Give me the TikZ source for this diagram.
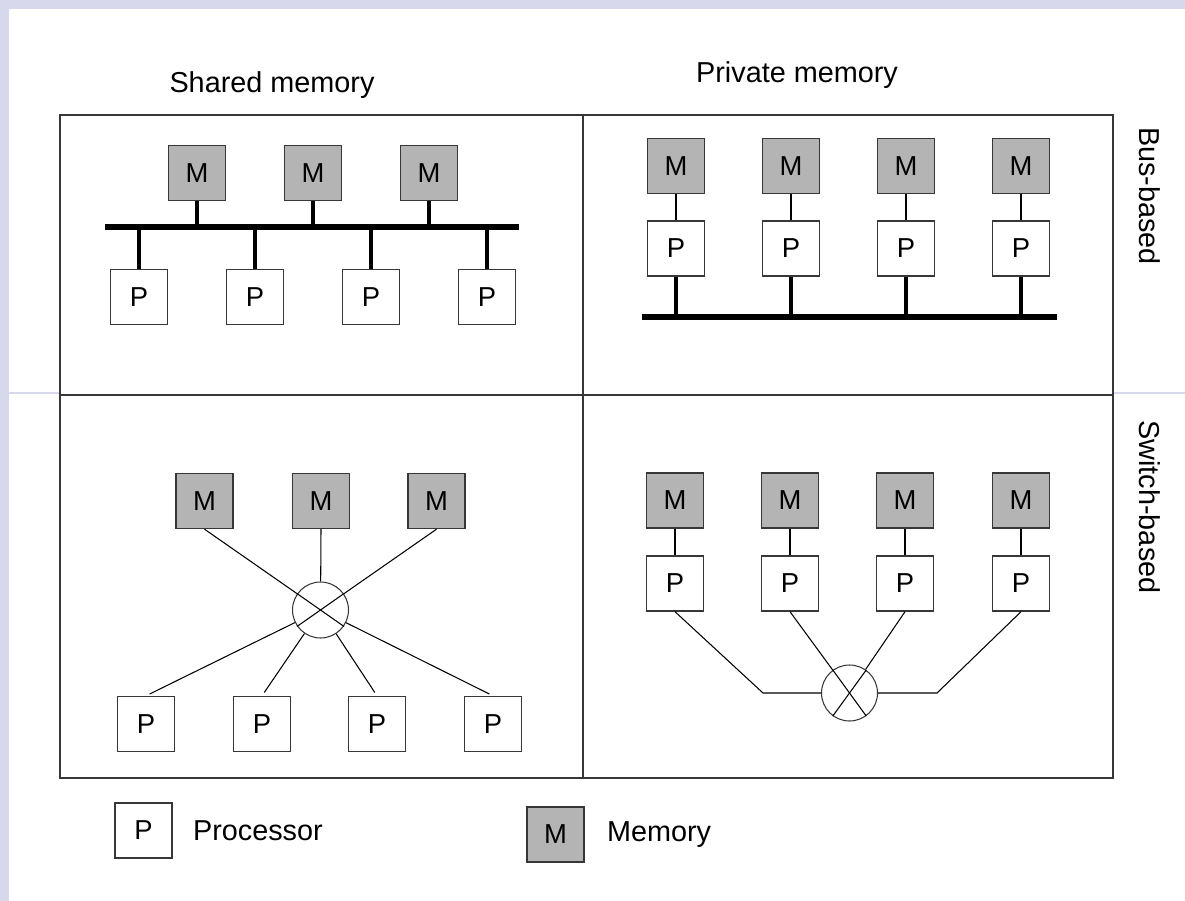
\documentclass[tikz,border=0pt]{standalone}
\usepackage{fontspec}
\setmainfont{Liberation Sans}
\usetikzlibrary{positioning}

\definecolor{memgray}{RGB}{180,180,180}
\definecolor{slideblue}{RGB}{216,216,236}
\definecolor{framegray}{RGB}{55,55,55}

\tikzset{
	proc/.style={draw=framegray,line width=0.8pt,fill=white,minimum width=1.14cm,minimum height=1.1cm,inner sep=0pt,font=\fontsize{15.6}{18}\selectfont},
	mem/.style={proc,fill=memgray},
	switch/.style={circle,draw=framegray,line width=0.6pt,minimum size=1.12cm,inner sep=0pt},
	bus/.style={line width=3.4pt},
	stem/.style={line width=2.8pt},
	link/.style={line width=0.6pt},
	title/.style={inner sep=0pt,anchor=base,font=\fontsize{16.4}{19}\selectfont},
	legend/.style={inner sep=0pt,font=\fontsize{16.4}{19}\selectfont}
}

\begin{document}
\begin{tikzpicture}[x=0.02cm,y=-0.02cm]
	\useasboundingbox	(0,0)	rectangle	(1185,901);
	\fill[white]		(0,0)	rectangle	(1185,901);
	\fill[slideblue]	(0,0)	rectangle	(9,901);
	\fill[slideblue]	(0,0)	rectangle	(1185,9);
	\draw[slideblue,line width=0.6pt]	(9,393)	--	(60,393);
	\draw[slideblue,line width=0.6pt]	(1113,393)	--	(1185,393);

	% frame
	\draw[framegray,line width=0.8pt]	(60,115)	rectangle	(1113,778);
	\draw[framegray,line width=0.8pt]	(583,115)	--	(583,778);
	\draw[framegray,line width=0.8pt]	(60,395)	--	(1113,395);

	\node[title]	(t1)	at	(272,93)	{Shared memory};
	\node[title]	(t2)	at	(797,83)	{Private memory};
	\node[title,rotate=-90,anchor=center]	(t3)	at	(1150,196)	{Bus-based};
	\node[title,rotate=-90,anchor=center]	(t4)	at	(1150,507)	{Switch-based};

	% shared memory, bus
	\node[mem]	(m11)	at	(197,173)	{M};
	\node[mem]	(m12)	at	(313,173)	{M};
	\node[mem]	(m13)	at	(429,173)	{M};
	\node[proc]	(p11)	at	(139,297)	{P};
	\node[proc]	(p12)	at	(255,297)	{P};
	\node[proc]	(p13)	at	(371,297)	{P};
	\node[proc]	(p14)	at	(487,297)	{P};
	\coordinate	(b1l)	at	(105,227);
	\coordinate	(b1r)	at	(519,227);

	\draw[bus]	(b1l)	--	(b1r);
	\draw[stem]	(m11.south)	--	(m11.south |- b1l);
	\draw[stem]	(m12.south)	--	(m12.south |- b1l);
	\draw[stem]	(m13.south)	--	(m13.south |- b1l);
	\draw[stem]	(p11.north)	--	(p11.north |- b1l);
	\draw[stem]	(p12.north)	--	(p12.north |- b1l);
	\draw[stem]	(p13.north)	--	(p13.north |- b1l);
	\draw[stem]	(p14.north)	--	(p14.north |- b1l);

	% private memory, bus
	\node[mem]	(m21)	at	(676,166)	{M};
	\node[mem]	(m22)	at	(791,166)	{M};
	\node[mem]	(m23)	at	(906,166)	{M};
	\node[mem]	(m24)	at	(1021,166)	{M};
	\node[proc]	(p21)	at	(676,248.5)	{P};
	\node[proc]	(p22)	at	(791,248.5)	{P};
	\node[proc]	(p23)	at	(906,248.5)	{P};
	\node[proc]	(p24)	at	(1021,248.5)	{P};
	\coordinate	(b2l)	at	(642,317);
	\coordinate	(b2r)	at	(1057,317);

	\draw[link]	(m21)	--	(p21);
	\draw[link]	(m22)	--	(p22);
	\draw[link]	(m23)	--	(p23);
	\draw[link]	(m24)	--	(p24);
	\draw[bus]	(b2l)	--	(b2r);
	\draw[stem]	(p21.south)	--	(p21.south |- b2l);
	\draw[stem]	(p22.south)	--	(p22.south |- b2l);
	\draw[stem]	(p23.south)	--	(p23.south |- b2l);
	\draw[stem]	(p24.south)	--	(p24.south |- b2l);

	% shared memory, switch
	\node[mem]	(m31)	at	(204.5,501)	{M};
	\node[mem]	(m32)	at	(321,501)	{M};
	\node[mem]	(m33)	at	(436.5,501)	{M};
	\node[switch]	(sw1)	at	(320.5,610)	{};
	\node[proc]	(p31)	at	(146,724)	{P};
	\node[proc]	(p32)	at	(262,724)	{P};
	\node[proc]	(p33)	at	(377,724)	{P};
	\node[proc]	(p34)	at	(493,724)	{P};

	\draw[link]	(m31.south)	--	(sw1);
	\draw[link]	(m32.south)	--	(sw1);
	\draw[link]	(m33.south)	--	(sw1);
	\draw[link]	(sw1.145)	--	(sw1.-35);
	\draw[link]	(sw1.35)	--	(sw1.215);
	\draw[link,shorten >=0.08cm]	(sw1)	--	(p31.north);
	\draw[link,shorten >=0.08cm]	(sw1)	--	(p32.north);
	\draw[link,shorten >=0.08cm]	(sw1)	--	(p33.north);
	\draw[link,shorten >=0.08cm]	(sw1)	--	(p34.north);

	% private memory, switch
	\node[mem]	(m41)	at	(675,500.5)	{M};
	\node[mem]	(m42)	at	(790,500.5)	{M};
	\node[mem]	(m43)	at	(905,500.5)	{M};
	\node[mem]	(m44)	at	(1021,500.5)	{M};
	\node[proc]	(p41)	at	(675,583.5)	{P};
	\node[proc]	(p42)	at	(790,583.5)	{P};
	\node[proc]	(p43)	at	(905,583.5)	{P};
	\node[proc]	(p44)	at	(1021,583.5)	{P};
	\node[switch]	(sw2)	at	(849.5,693)	{};
	\coordinate	(e1)	at	(763,693);
	\coordinate	(e2)	at	(937,693);

	\draw[link]	(m41)	--	(p41);
	\draw[link]	(m42)	--	(p42);
	\draw[link]	(m43)	--	(p43);
	\draw[link]	(m44)	--	(p44);
	\draw[link]	(p41.south)	--	(e1)	--	(sw2);
	\draw[link]	(p44.south)	--	(e2)	--	(sw2);
	\draw[link]	(p42.south)	--	(sw2);
	\draw[link]	(p43.south)	--	(sw2);
	\draw[link]	(sw2.126)	--	(sw2.-54);
	\draw[link]	(sw2.54)	--	(sw2.234);

	% legend
	\node[proc]	(lp)	at	(143.5,830.5)	{P};
	\node[legend,right=0.4cm of lp]	(lpt)	{Processor};
	\node[mem]	(lm)	at	(555.5,834.5)	{M};
	\node[legend,right=0.44cm of lm]	(lmt)	{Memory};
\end{tikzpicture}
\end{document}
